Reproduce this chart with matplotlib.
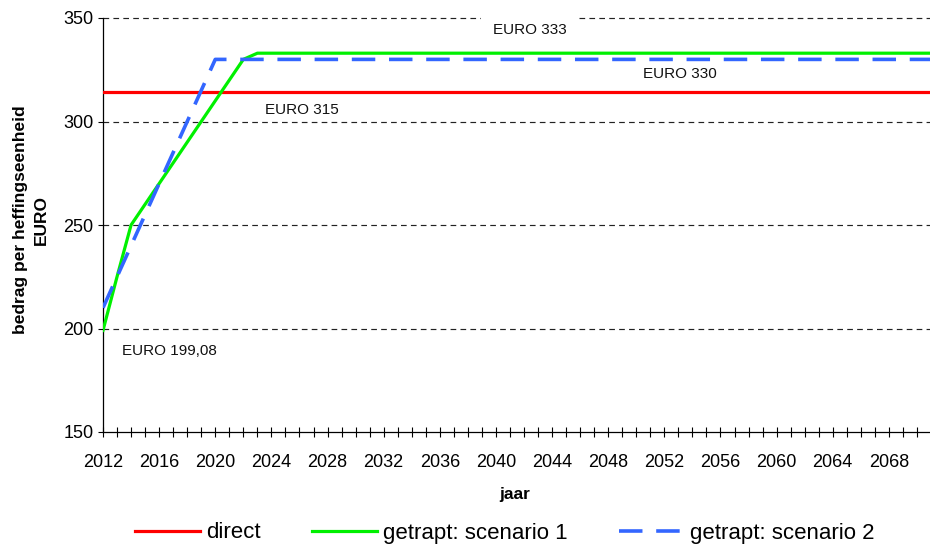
"""Bedrag per heffingseenheid: direct vs getrapt (scenario 1 en 2)."""
import matplotlib
matplotlib.use("Agg")
import matplotlib.pyplot as plt

plt.rcParams["font.family"] = ["Liberation Sans", "DejaVu Sans"]

# ── data ────────────────────────────────────────────────────────────────
years = list(range(2012, 2072))
direct = [314.3] * len(years)
scenario1 = [199.08, 225, 250, 260, 270, 280, 290, 300, 310, 320, 330] + [333] * 49
scenario2 = [210, 225, 240, 255, 270, 285, 300, 315] + [330] * 52
series_labels = ["direct", "getrapt: scenario 1", "getrapt: scenario 2"]
y_ticks = [150, 200, 250, 300, 350]
x_tick_years = list(range(2012, 2071))
x_tick_labels = [str(y) if (y - 2012) % 4 == 0 else "" for y in x_tick_years]
notes = ["EURO 333", "EURO 330", "EURO 315", "EURO 199,08"]
note_pos = [(2042.4, 344.2), (2053.1, 323.0), (2026.2, 305.6), (2016.7, 189.3)]

# ── figure ──────────────────────────────────────────────────────────────
fig = plt.figure(figsize=(9.3, 5.45), dpi=100)
ax = fig.add_axes([103 / 930, 1 - 432 / 545, 827 / 930, 414 / 545])

ax.plot(years, direct, color="#FF0000", lw=2.3, label=series_labels[0], zorder=3)
ax.plot(years, scenario1, color="#00F000", lw=2.3, label=series_labels[1], zorder=4)
ax.plot(years, scenario2, color="#3366FF", lw=2.6, dashes=(6.5, 3.8),
        label=series_labels[2], zorder=5)

ax.set_xlim(2012, 2070.93)
ax.set_ylim(150, 350)
ax.set_yticks(y_ticks)
ax.set_xticks(x_tick_years)
ax.set_xticklabels(x_tick_labels)
ax.tick_params(axis="x", direction="inout", length=7.5, width=0.8, labelsize=13, pad=12)
ax.tick_params(axis="y", direction="out", length=3.8, width=0.8, labelsize=13, pad=3)

for side in ["top", "right"]:
    ax.spines[side].set_visible(False)
for side in ["left", "bottom"]:
    ax.spines[side].set_linewidth(0.9)

for y in y_ticks[1:]:
    ax.axhline(y, color="#222222", lw=0.85, dashes=(4.8, 3.6), zorder=1, clip_on=False)

for i, (txt, (x, y)) in enumerate(zip(notes, note_pos)):
    kw = {}
    if i == 0:
        kw["bbox"] = dict(facecolor="white", edgecolor="none", pad=8.5)
    ax.text(x, y, txt, fontsize=11, ha="center", va="center", color="#111111",
            zorder=6, **kw)

fig.text(31 / 930, 1 - 220 / 545, "bedrag per heffingseenheid\nEURO",
         rotation=90, ha="center", va="center", fontsize=12.5,
         fontweight="bold", linespacing=1.5)
fig.text(515 / 930, 1 - 494 / 545, "jaar", ha="center", va="center",
         fontsize=12.5, fontweight="bold")

fig.legend(loc="center", bbox_to_anchor=(505 / 930, 1 - 533 / 545), ncol=3,
           frameon=False, fontsize=16, handlelength=2.9, handletextpad=0.3,
           columnspacing=2.3)

fig.savefig("out.png", dpi=100)
